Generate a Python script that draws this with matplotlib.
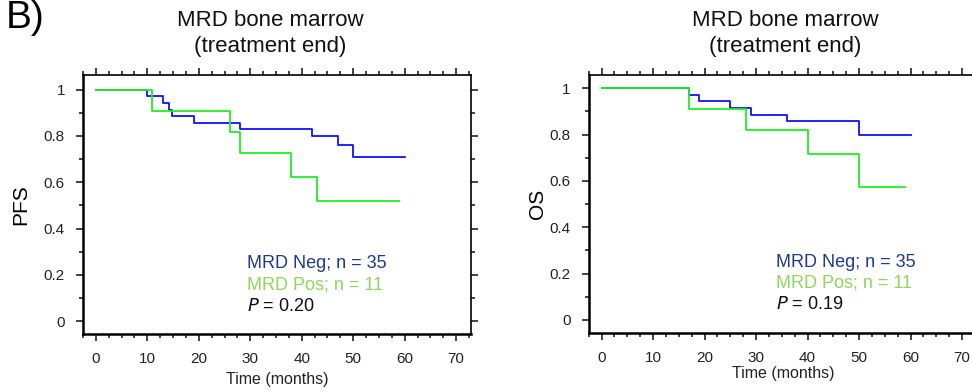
import matplotlib
matplotlib.use('Agg')
import matplotlib.pyplot as plt
from matplotlib.ticker import MultipleLocator

plt.rcParams['font.family'] = ['Liberation Sans', 'DejaVu Sans']

# PFS curves (time in months, survival fraction)
pfs_neg_t = [0, 10, 13, 14.2, 14.8, 19, 28, 42, 47, 50, 60]
pfs_neg_s = [1, 0.971, 0.943, 0.914, 0.886, 0.857, 0.829, 0.800, 0.762, 0.711, 0.711]
pfs_pos_t = [0, 11, 26, 28, 38, 43, 59]
pfs_pos_s = [1, 0.909, 0.818, 0.727, 0.623, 0.519, 0.519]

# OS curves
os_neg_t = [0, 17, 19, 25, 29, 36, 50, 60]
os_neg_s = [1, 0.971, 0.943, 0.914, 0.886, 0.857, 0.800, 0.800]
os_pos_t = [0, 17, 28, 40, 50, 59]
os_pos_s = [1, 0.909, 0.818, 0.716, 0.575, 0.575]

neg_label = 'MRD Neg; n = 35'
pos_label = 'MRD Pos; n = 11'
p_values = ['0.20', '0.19']
ylabels = ['PFS', 'OS']
title = 'MRD bone marrow\n(treatment end)'

line_blue = '#1010ff'
line_green = '#20f020'
txt_blue = '#1f3a8a'
txt_green = '#8ed65e'

fig = plt.figure(figsize=(9.72, 3.92), dpi=100)
ax1 = fig.add_axes([0.0854, 0.148, 0.3992, 0.6607])
ax2 = fig.add_axes([0.6057, 0.150, 0.3995, 0.6587])

panels = [
    (ax1, pfs_neg_t, pfs_neg_s, pfs_pos_t, pfs_pos_s, (-0.055, 1.063), 29.3, 0.482, -0.137, -0.147),
    (ax2, os_neg_t, os_neg_s, os_pos_t, os_pos_s, (-0.057, 1.057), 33.8, 0.505, -0.108, -0.127),
]

for i, (ax, nt, ns, pt, ps, ylim, tx, title_x, ylab_x, xlab_y) in enumerate(panels):
    ax.step(nt, ns, where='post', color=line_blue, lw=1.3)
    ax.step(pt, ps, where='post', color=line_green, lw=1.3)
    ax.set_xlim(-2.5, 72.9)
    ax.set_ylim(*ylim)
    ax.xaxis.set_major_locator(MultipleLocator(10))
    ax.xaxis.set_minor_locator(MultipleLocator(2.5))
    ax.set_yticks([0, 0.2, 0.4, 0.6, 0.8, 1.0])
    ax.set_yticklabels(['0', '0.2', '0.4', '0.6', '0.8', '1'])
    ax.set_yticks([0.1, 0.3, 0.5, 0.7, 0.9], minor=True)
    ax.tick_params(which='both', direction='out', top=True, right=True,
                   labelsize=11, colors='#222222', width=1.2)
    ax.tick_params(which='major', length=5)
    ax.tick_params(which='minor', length=3)
    ax.tick_params(axis='x', pad=8)
    ax.tick_params(axis='y', pad=8)
    for side in ['left', 'bottom']:
        ax.spines[side].set_linewidth(1.8)
    for side in ['right', 'top']:
        ax.spines[side].set_linewidth(1.2)

    ax.set_xlabel('Time (months)', fontsize=11.5, color='#222222')
    ax.xaxis.set_label_coords(0.5, xlab_y)
    ax.set_ylabel(ylabels[i], fontsize=15)
    ax.yaxis.set_label_coords(ylab_x, 0.5)

    ax.text(title_x, 1.16, title, transform=ax.transAxes, ha='center', va='center',
            fontsize=16, linespacing=1.3, color='#111111')

    ax.text(tx, 0.25, neg_label, color=txt_blue, fontsize=13, va='center')
    ax.text(tx, 0.158, pos_label, color=txt_green, fontsize=13, va='center')
    ax.text(tx, 0.065, r'$\it{P}$ = ' + p_values[i], color='#111111', fontsize=13, va='center')

fig.text(0.006, 0.955, 'B)', fontsize=28, ha='left', va='center')

fig.savefig('out.png', dpi=100)
